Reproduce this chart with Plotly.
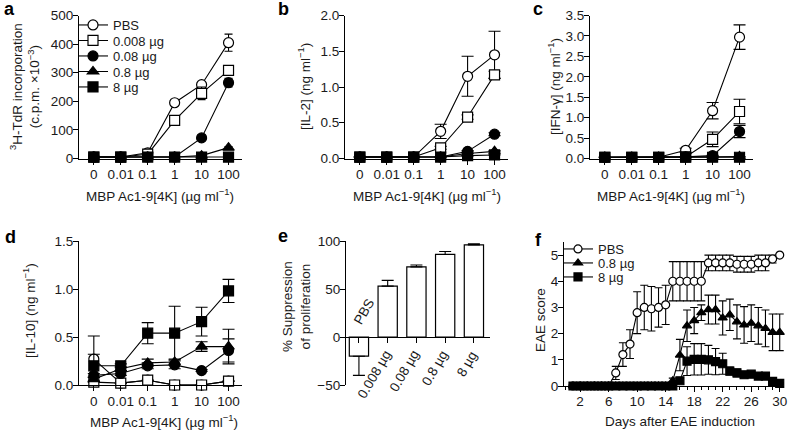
import plotly.graph_objects as go

W, H = 788, 432
def X(px): return px / W
def Y(py): return 1 - py / H

FONT = "Liberation Sans, Arial, sans-serif"
TXT = "#1a1a1a"

# ---------------- data ----------------
conc = ["0", "0.01", "0.1", "1", "10", "100"]
groups = ["PBS", "0.008 µg", "0.08 µg", "0.8 µg", "8 µg"]

# panel a: 3H-TdR incorporation (c.p.m. x10^-3)
a_pbs = [5, 5, 20, 195, 258, 405]
a_pbs_err = [0, 0, 3, 6, 8, 30]
a_0008 = [5, 5, 15, 133, 228, 308]
a_0008_err = [0, 0, 2, 5, 22, 15]
a_008 = [5, 5, 5, 5, 72, 265]
a_008_err = [0, 0, 0, 0, 4, 15]
a_08 = [5, 5, 5, 5, 10, 38]
a_08_err = [0, 0, 0, 0, 2, 4]
a_8 = [5, 5, 5, 5, 5, 5]
a_8_err = [0, 0, 0, 0, 0, 0]

# panel b: IL-2 (ng/ml)
b_pbs = [0.02, 0.02, 0.02, 0.38, 1.15, 1.45]
b_pbs_err = [0, 0, 0, 0.10, 0.28, 0.33]
b_0008 = [0.02, 0.02, 0.02, 0.15, 0.58, 1.17]
b_0008_err = [0, 0, 0, 0.02, 0.03, 0.05]
b_008 = [0.02, 0.02, 0.02, 0.02, 0.10, 0.34]
b_008_err = [0, 0, 0, 0, 0.01, 0.02]
b_08 = [0.02, 0.02, 0.02, 0.02, 0.07, 0.10]
b_08_err = [0, 0, 0, 0, 0, 0.01]
b_8 = [0.02, 0.02, 0.02, 0.02, 0.04, 0.05]
b_8_err = [0, 0, 0, 0, 0, 0]

# panel c: IFN-gamma (ng/ml)
c_pbs = [0.03, 0.03, 0.03, 0.20, 1.17, 2.97]
c_pbs_err = [0, 0, 0, 0.05, 0.20, 0.30]
c_0008 = [0.03, 0.03, 0.03, 0.04, 0.47, 1.15]
c_0008_err = [0, 0, 0, 0, 0.18, 0.30]
c_008 = [0.03, 0.03, 0.03, 0.04, 0.07, 0.66]
c_008_err = [0, 0, 0, 0, 0.01, 0.15]
c_08 = [0.03, 0.03, 0.03, 0.03, 0.04, 0.05]
c_08_err = [0, 0, 0, 0, 0, 0]
c_8 = [0.03, 0.03, 0.03, 0.03, 0.03, 0.03]
c_8_err = [0, 0, 0, 0, 0, 0]

# panel d: IL-10 (ng/ml)
d_pbs = [0.27, 0.02, 0.05, 0.0, 0.0, 0.04]
d_pbs_err = [0.24, 0, 0, 0, 0, 0]
d_0008 = [0.03, 0.02, 0.05, 0.0, 0.0, 0.04]
d_0008_err = [0, 0, 0, 0, 0, 0]
d_008 = [0.10, 0.12, 0.20, 0.21, 0.15, 0.36]
d_008_err = [0.02, 0.02, 0.03, 0.04, 0.01, 0.12]
d_08 = [0.06, 0.17, 0.23, 0.24, 0.40, 0.40]
d_08_err = [0.02, 0.02, 0.04, 0.03, 0.05, 0.18]
d_8 = [0.20, 0.20, 0.54, 0.54, 0.66, 0.98]
d_8_err = [0.12, 0.02, 0.11, 0.28, 0.15, 0.12]

# panel e: % suppression of proliferation
e_vals = [-20, 53, 73, 86, 96]
e_err_up = [0, 6, 2, 3, 1]
e_err_down = [20, 0, 0, 0, 0]

# panel f: EAE score by day
days = list(range(1, 31))
f_pbs = [0, 0, 0, 0, 0, 0, 0.5, 1.2, 1.6, 2.8, 3.0, 2.95, 3.0, 3.1, 4.0,
         4.0, 4.0, 4.0, 4.0, 4.7, 4.7, 4.7, 4.7, 4.65, 4.65, 4.65, 4.7, 4.7, 4.85, 5.0]
f_pbs_err = [0, 0, 0, 0, 0, 0, 0.25, 0.45, 0.55, 0.8, 0.85, 0.85, 0.75, 0.75, 0.75,
             0.75, 0.75, 0.75, 0.75, 0.3, 0.3, 0.3, 0.3, 0.3, 0.3, 0.3, 0.3, 0.3, 0.15, 0]
f_08 = [0, 0, 0, 0, 0, 0, 0, 0, 0, 0, 0, 0, 0, 0, 0.2,
        1.18, 2.3, 2.5, 2.8, 2.92, 2.92, 2.6, 2.72, 2.45, 2.33, 2.4, 2.3, 2.2, 2.05, 2.05]
f_08_err = [0, 0, 0, 0, 0, 0, 0, 0, 0, 0, 0, 0, 0, 0, 0.1,
            0.6, 0.6, 0.5, 0.3, 0.55, 0.55, 0.65, 0.6, 0.65, 0.7, 0.7, 0.7, 0.7, 0.7, 0.7]
f_8 = [0, 0, 0, 0, 0, 0, 0, 0, 0, 0, 0, 0, 0, 0, 0,
       0.2, 0.95, 1.02, 1.02, 1.0, 0.93, 0.85, 0.57, 0.5, 0.43, 0.45, 0.38, 0.38, 0.18, 0.1]
f_8_err = [0, 0, 0, 0, 0, 0, 0, 0, 0, 0, 0, 0, 0, 0, 0,
           0.1, 0.55, 0.6, 0.6, 0.55, 0.5, 0.4, 0.15, 0.15, 0.12, 0.12, 0.1, 0.1, 0.05, 0.03]

# ---------------- styles ----------------
STY = {
    "PBS": dict(symbol="circle", color="white"),
    "0.008 µg": dict(symbol="square", color="white"),
    "0.08 µg": dict(symbol="circle", color="black"),
    "0.8 µg": dict(symbol="triangle-up", color="black"),
    "8 µg": dict(symbol="square", color="black"),
}

fig = go.Figure()

def add_series(xk, yk, x, y, err, name, size, capw, legend=None):
    s = STY[name]
    fig.add_trace(go.Scatter(
        x=x, y=y, mode="lines+markers", name=name,
        xaxis=xk, yaxis=yk,
        line=dict(color="black", width=1.1),
        marker=dict(symbol=s["symbol"], color=s["color"], size=size,
                    line=dict(color="black", width=1.2)),
        error_y=dict(type="data", array=err, visible=True, color="black",
                     thickness=1.1, width=capw),
        cliponaxis=False,
        showlegend=legend is not None,
        legend=legend if legend else "legend",
    ))

# one legend box per entry so that rows can sit as close as in the original
a_legends = ["legend", "legend2", "legend3", "legend4", "legend5"]
f_legends = ["legend6", "legend7", "legend8"]

panels = [
    ("x", "y", [a_pbs, a_0008, a_008, a_08, a_8], [a_pbs_err, a_0008_err, a_008_err, a_08_err, a_8_err], 4, a_legends),
    ("x2", "y2", [b_pbs, b_0008, b_008, b_08, b_8], [b_pbs_err, b_0008_err, b_008_err, b_08_err, b_8_err], 6, None),
    ("x3", "y3", [c_pbs, c_0008, c_008, c_08, c_8], [c_pbs_err, c_0008_err, c_008_err, c_08_err, c_8_err], 6, None),
    ("x4", "y4", [d_pbs, d_0008, d_008, d_08, d_8], [d_pbs_err, d_0008_err, d_008_err, d_08_err, d_8_err], 6, None),
]
for xk, yk, series, errs, capw, legs in panels:
    for i, (name, ys, es) in enumerate(zip(groups, series, errs)):
        add_series(xk, yk, conc, ys, es, name, 10, capw, legs[i] if legs else None)

# panel e bars
fig.add_trace(go.Bar(
    x=groups, y=e_vals, xaxis="x5", yaxis="y5", width=0.67,
    marker=dict(color="white", line=dict(color="black", width=1.2)),
    error_y=dict(type="data", symmetric=False, array=e_err_up, arrayminus=e_err_down,
                 color="black", thickness=1.1, width=6),
    showlegend=False, cliponaxis=False,
))

# panel f
for lg, (name, ys, es) in zip(f_legends, [("PBS", f_pbs, f_pbs_err), ("0.8 µg", f_08, f_08_err), ("8 µg", f_8, f_8_err)]):
    add_series("x6", "y6", days, ys, es, name, 8, 4, lg)

# ---------------- axes ----------------
axfont = dict(family=FONT, size=13.5, color=TXT)
def xax(dom_px, rng, **kw):
    d = dict(domain=[X(dom_px[0]), X(dom_px[1])], range=rng, showline=True,
             linecolor="black", linewidth=1.2, ticks="outside", ticklen=5,
             tickwidth=1.2, tickcolor="black", showgrid=False, zeroline=False,
             tickfont=axfont, automargin=False, ticklabelstandoff=-2)
    d.update(kw)
    return d

def yax(dom_px, rng, **kw):
    d = dict(domain=[Y(dom_px[1]), Y(dom_px[0])], range=rng, showline=True,
             linecolor="black", linewidth=1.2, ticks="outside", ticklen=5,
             tickwidth=1.2, tickcolor="black", showgrid=False, zeroline=False,
             tickfont=axfont, automargin=False, ticklabelstandoff=-3)
    d.update(kw)
    return d

TOP = (15.5, 158.5)
BOT = (241, 385)
crng = [-0.55, 5.5]
fig.update_layout(
    xaxis=xax((79, 242), crng, type="category", anchor="y"),
    yaxis=yax(TOP, [0, 500], tickvals=[0, 100, 200, 300, 400, 500], anchor="x"),
    xaxis2=xax((345, 508), crng, type="category", anchor="y2"),
    yaxis2=yax(TOP, [0, 2.0], tickvals=[0, 0.5, 1.0, 1.5, 2.0], tickformat=".1f", anchor="x2"),
    xaxis3=xax((590, 753), crng, type="category", anchor="y3"),
    yaxis3=yax(TOP, [0, 3.5], tickvals=[0, 0.5, 1, 1.5, 2, 2.5, 3, 3.5], tickformat=".1f", anchor="x3"),
    xaxis4=xax((79, 242), crng, type="category", anchor="y4", ticklabelstandoff=-1),
    yaxis4=yax(BOT, [0, 1.5], tickvals=[0, 0.5, 1.0, 1.5], tickformat=".1f", anchor="x4"),
    xaxis5=xax((346, 490), [-0.45, 4.56], type="category", anchor="free",
               position=Y(337), showticklabels=False),
    yaxis5=yax(BOT, [-50, 100], tickvals=[-50, 0, 50, 100], anchor="x5"),
    xaxis6=xax((564, 784), [-0.26, 30.6], anchor="y6", tick0=2, dtick=4,
               minor=dict(dtick=1, tick0=0, ticks="outside", ticklen=3,
                          tickwidth=1, tickcolor="black")),
    yaxis6=yax((242, 386), [0, 5.5], tickvals=[0, 1, 2, 3, 4, 5], anchor="x6"),
)

leg_common = dict(xanchor="left", yanchor="top", bgcolor="rgba(0,0,0,0)",
                  font=dict(family=FONT, size=13, color=TXT), itemwidth=30,
                  tracegroupgap=0, borderwidth=0)
a_rows = [24, 39.5, 55, 70.5, 86]
f_rows = [248, 262, 276]
legs = {}
for lg, r in zip(a_legends, a_rows):
    legs[lg] = dict(x=X(73), y=Y(r - 14), **leg_common)
for lg, r in zip(f_legends, f_rows):
    legs[lg] = dict(x=X(558), y=Y(r - 14), **leg_common)
fig.update_layout(**legs)

# ---------------- annotations (titles, panel letters) ----------------
ann = []
def text(px, py, s, size=13.5, angle=0, bold=False):
    ann.append(dict(x=X(px), y=Y(py), xref="paper", yref="paper", text=s,
                    showarrow=False, textangle=angle, xanchor="center", yanchor="middle",
                    font=dict(family=FONT, size=size, color="black" if bold else TXT)))

xt = "MBP Ac1-9[4K] (µg ml<sup>−1</sup>)"
text(160, 195, xt)
text(427, 195, xt)
text(671, 195, xt)
text(164, 421, xt)
text(680, 421, "Days after EAE induction")

text(25, 87, "<sup>3</sup>H-TdR incorporation<br>(c.p.m. ×10<sup>−3</sup>)", angle=-90)
text(304, 87, "[IL-2] (ng ml<sup>−1</sup>)", angle=-90)
text(554, 87, "[IFN-γ] (ng ml<sup>−1</sup>)", angle=-90)
text(29, 311, "[IL-10] (ng ml<sup>−1</sup>)", angle=-90)
text(296, 307, "% Suppression<br>of proliferation", angle=-90)
text(540, 320, "EAE score", angle=-90)

for lbl, px, py in [("a", 9, 9), ("b", 283, 9), ("c", 538, 9),
                    ("d", 10, 237), ("e", 283, 236), ("f", 538, 240)]:
    text(px, py, "<b>%s</b>" % lbl, size=18, bold=True)

# rotated category labels of panel e (drawn below the zero line)
for i, g in enumerate(groups):
    if i == 0:
        # PBS label sits above its negative bar
        ann.append(dict(x=0.17, y=27, xref="x5", yref="y5", text=g, showarrow=False,
                        textangle=-60, font=dict(family=FONT, size=13.5, color=TXT)))
    else:
        ann.append(dict(x=i, y=Y(345), xref="x5", yref="paper", text=g, showarrow=False,
                        textangle=-60, xanchor="right", yanchor="top", xshift=9,
                        font=dict(family=FONT, size=13.5, color=TXT)))

fig.update_layout(
    template="none",
    annotations=ann,
    width=W, height=H, margin=dict(l=0, r=0, t=0, b=0, autoexpand=False),
    paper_bgcolor="white", plot_bgcolor="white",
    font=dict(family=FONT, color=TXT),
    bargap=0.3,
)

fig.write_html("out.html", config={"displayModeBar": False},
               post_script="document.body.style.margin='0px';document.body.style.overflow='hidden';")
